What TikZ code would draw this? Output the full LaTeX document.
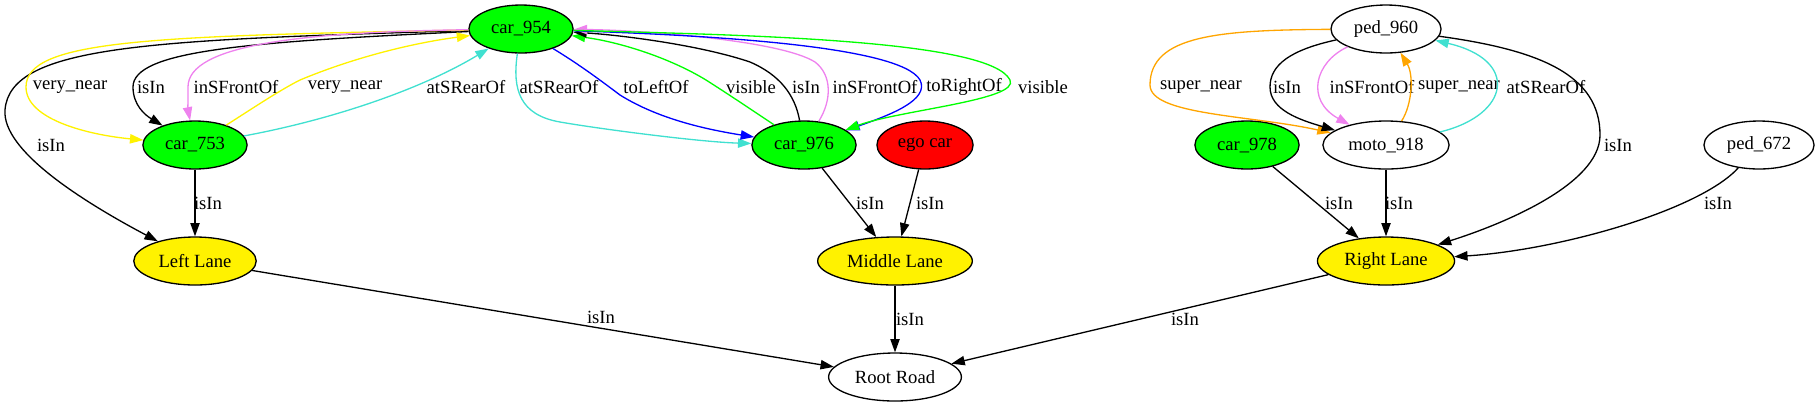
\documentclass[tikz,border=0pt]{standalone}
\usepackage{fontspec}
\setmainfont{Liberation Serif}
\usepackage{xcolor}
\usepackage{tikz}
\usetikzlibrary{shapes,arrows.meta}
\definecolor{violet}{HTML}{EE82EE}
\definecolor{orange}{HTML}{FFA500}
\definecolor{turquoise}{HTML}{40E0D0}
\tikzstyle{vertex}=[ellipse,draw=black,line width=0.75pt,minimum height=0.96cm,inner xsep=3.9pt,inner ysep=0pt,font=\fontsize{10.6}{12.7}\selectfont]
\tikzstyle{edge} = [draw,line width=0.75pt,-{Triangle[length=7.6pt,width=5.3pt]}]
\tikzstyle{weight} = [font=\fontsize{10.6}{12.7}\selectfont,text=black,inner sep=0pt]

\begin{document}
\begin{tikzpicture}[x=0.02cm,y=0.02cm]

  \useasboundingbox (0,0) rectangle (1817,-407);

   \foreach \x/\y/\name/\label/\col in {521/29/car954/car\_954/green, 1386/29/ped960/ped\_960/white}
          \node[vertex,fill=\col] (\name) at (\x,-\y) {\label};

   \foreach \x/\y/\name/\label/\col in {195/145/car753/car\_753/green, 804/145/car976/car\_976/green, 925/145/ego/ego car/red, 1247/145/car978/car\_978/green, 1386/145/moto918/moto\_918/white, 1759/145/ped672/ped\_672/white}
          \node[vertex,fill=\col] (\name) at (\x,-\y) {\label};

   \foreach \x/\y/\name/\label/\col in {195/261/LeftLane/Left Lane/yellow, 895/261/MiddleLane/Middle Lane/yellow, 1386/261/RightLane/Right Lane/yellow, 895/377/RootRoad/Root Road/white}
          \node[vertex,fill=\col] (\name) at (\x,-\y) {\label};


  \foreach \source/ \dest /\lx/\ly in {car753/LeftLane/208/203, car976/MiddleLane/870/203, ego/MiddleLane/930/203, car978/RightLane/1339/203, moto918/RightLane/1399/203, LeftLane/RootRoad/601/317, MiddleLane/RootRoad/910/319, RightLane/RootRoad/1185/319}
         \path[edge] (\source) -- (\dest) node[weight] (l\source\dest) at (\lx,-\ly) {isIn};

  % car_954 and car_753
  \path[edge] (car954) .. controls (150,-40) and (10,-45) .. (5,-110) .. controls (2,-150) and (80,-200) .. (LeftLane) node[weight] (lA) at (51,-145) {isIn};
  \path[edge,yellow] (car954) .. controls (150,-36) and (26,-40) .. (26,-87) .. controls (26,-120) and (90,-135) .. (car753) node[weight] (lB) at (70,-87) {very\_near};
  \path[edge] (car954) .. controls (250,-42) and (133,-50) .. (133,-87) .. controls (133,-105) and (145,-115) .. (car753) node[weight] (lC) at (151,-87) {isIn};
  \path[edge,violet] (car954) .. controls (300,-32) and (188,-45) .. (188,-87) .. controls (188,-100) and (188,-110) .. (car753) node[weight] (lD) at (236,-87) {inSFrontOf};
  \path[edge,yellow] (car753) .. controls (250,-110) and (280,-90) .. (300,-80) .. controls (360,-55) and (420,-42) .. (car954) node[weight] (lE) at (345,-87) {very\_near};
  \path[edge,turquoise] (car753) .. controls (330,-120) and (420,-90) .. (car954) node[weight] (lF) at (466,-87) {atSRearOf};

  % car_954 and car_976
  \path[edge,turquoise] (car954) .. controls (512,-90) and (520,-115) .. (560,-122) .. controls (600,-129) and (700,-142) .. (car976) node[weight] (lG) at (559,-87) {atSRearOf};
  \path[edge,blue] (car954) .. controls (580,-65) and (600,-80) .. (620,-95) .. controls (660,-120) and (710,-130) .. (car976) node[weight] (lH) at (656,-87) {toLeftOf};
  \path[edge,green] (car976) .. controls (755,-112) and (725,-92) .. (706,-80) .. controls (670,-58) and (620,-42) .. (car954) node[weight] (lI) at (751,-87) {visible};
  \path[edge] (car976) .. controls (795,-95) and (780,-75) .. (750,-62) .. controls (700,-45) and (620,-35) .. (car954) node[weight] (lJ) at (806,-87) {isIn};
  \path[edge,violet] (car976) .. controls (832,-100) and (832,-75) .. (815,-62) .. controls (780,-40) and (640,-30) .. (car954) node[weight] (lK) at (875,-87) {inSFrontOf};
  \path[edge,blue] (car954) .. controls (700,-35) and (900,-45) .. (920,-80) .. controls (930,-100) and (890,-115) .. (car976) node[weight] (lL) at (964,-87) {toRightOf};
  \path[edge,green] (car954) .. controls (750,-35) and (990,-40) .. (1010,-80) .. controls (1020,-100) and (900,-110) .. (car976) node[weight] (lM) at (1043,-87) {visible};

  % ped_960 and moto_918
  \path[edge,orange] (ped960) .. controls (1220,-30) and (1150,-35) .. (1150,-85) .. controls (1150,-115) and (1250,-115) .. (moto918) node[weight] (lN) at (1201,-87) {super\_near};
  \path[edge] (ped960) .. controls (1290,-50) and (1270,-65) .. (1270,-87) .. controls (1270,-110) and (1300,-120) .. (moto918) node[weight] (lO) at (1287,-87) {isIn};
  \path[edge,violet] (ped960) .. controls (1315,-62) and (1305,-100) .. (moto918) node[weight] (lP) at (1372,-87) {inSFrontOf};
  \path[edge,orange] (moto918) .. controls (1412,-105) and (1414,-75) .. (ped960) node[weight] (lQ) at (1459,-87) {super\_near};
  \path[edge,turquoise] (moto918) .. controls (1510,-115) and (1520,-60) .. (ped960) node[weight] (lR) at (1546,-87) {atSRearOf};

  \path[edge] (ped960) .. controls (1540,-50) and (1600,-75) .. (1600,-135) .. controls (1600,-185) and (1500,-225) .. (RightLane) node[weight] (lS) at (1618,-145) {isIn};
  \path[edge] (ped672) .. controls (1700,-210) and (1560,-250) .. (RightLane) node[weight] (lT) at (1718,-203) {isIn};

\end{tikzpicture}
\end{document}
